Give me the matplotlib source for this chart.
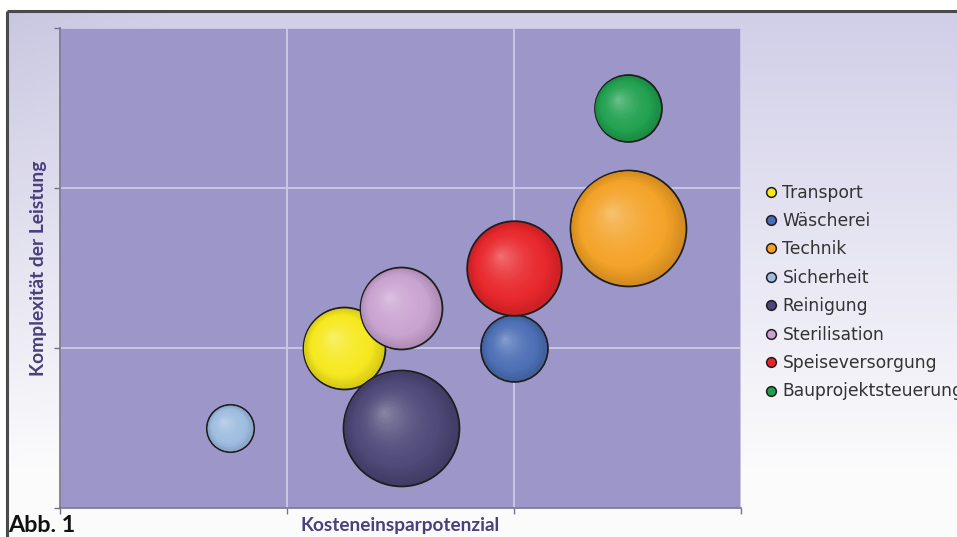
import matplotlib
matplotlib.use('Agg')
import matplotlib.pyplot as plt
import numpy as np
from matplotlib.colors import to_rgb
from matplotlib.lines import Line2D
from matplotlib.transforms import ScaledTranslation

# data
categories = ['Transport', 'Wäscherei', 'Technik', 'Sicherheit',
              'Reinigung', 'Sterilisation', 'Speiseversorgung', 'Bauprojektsteuerung']
kosten     = [1.25, 2.0, 2.5, 0.75, 1.5, 1.5, 2.0, 2.5]
komplex    = [1.0, 1.0, 1.75, 0.5, 0.5, 1.25, 1.5, 2.5]
groesse    = [3, 2, 6, 1, 6, 3, 4, 2]
colors     = ['#f6e81c', '#4a6db4', '#f4a226', '#9dbce0',
              '#4c4676', '#c9a2d0', '#e8252a', '#1fa04e']

W, H, DPI = 957, 537, 100
fig = plt.figure(figsize=(W / DPI, H / DPI), dpi=DPI)
fig.patch.set_facecolor('white')

# background gradient inside the frame
bg = fig.add_axes([0, 0, 1, 1], zorder=-5)
bg.set_xlim(0, 1)
bg.set_ylim(0, 1)
bg.axis('off')
ny, nx = 120, 200
yy, xx = np.mgrid[0:1:ny * 1j, 0:1:nx * 1j]
top = np.array([0.82, 0.81, 0.91])
bot = np.array([0.985, 0.985, 0.99])
t = np.clip(yy * 1.15, 0, 1)[..., None]
grad = top * (1 - t) + bot * t
grad = grad - 0.03 * np.clip(1 - xx * 6, 0, 1)[..., None] * (1 - t)
x0, y1 = 7 / W, 1 - 11 / H
bg.imshow(grad, extent=[x0, 1, 0, y1], aspect='auto', origin='upper')
bg.plot([x0, 1], [y1, y1], color='#4a4a4a', lw=2.2, solid_capstyle='butt')
bg.plot([x0, x0], [0, y1], color='#4a4a4a', lw=2.2, solid_capstyle='butt')

ax = fig.add_axes([60 / W, 1 - 508 / H, 681 / W, 480 / H])
ax.set_facecolor('#9d96c8')
ax.set_xlim(0, 3)
ax.set_ylim(0, 3)
ax.set_xticks([0, 1, 2, 3])
ax.set_yticks([0, 1, 2, 3])
ax.set_xticklabels([])
ax.set_yticklabels([])
ax.tick_params(direction='out', length=4, color='#77738f', width=1)
ax.grid(True, color='#cdc9e4', lw=1.3)
ax.set_axisbelow(True)
for side in ['top', 'right']:
    ax.spines[side].set_visible(False)
for side in ['left', 'bottom']:
    ax.spines[side].set_color('#77738f')
    ax.spines[side].set_linewidth(1.2)

scale = 1160  # points^2 per size unit


def bubble(x, y, size, color, z):
    base = np.array(to_rgb(color))
    s = size * scale
    r_pt = np.sqrt(s) / 2
    ax.scatter([x], [y], s=s, color=base * 0.86, edgecolors='#1e1e1e',
               linewidths=1.3, zorder=z)
    n = 30
    for k in range(1, n):
        f = k / n
        off = ScaledTranslation(-0.3 * r_pt * f / 72, 0.28 * r_pt * f / 72,
                                fig.dpi_scale_trans)
        light = 0.36 * f ** 2.2
        col = base * (0.86 + 0.14 * min(f * 4, 1))
        col = col + (1 - col) * light
        ax.scatter([x], [y], s=s * (1 - f) ** 2, color=col, linewidths=0,
                   transform=ax.transData + off, zorder=z + 0.01 * k)


for i in range(len(categories)):
    bubble(kosten[i], komplex[i], groesse[i], colors[i], 3 + i)

lab_font = ['Lato', 'DejaVu Sans']
fig.text(400 / W, 1 - 525 / H, 'Kosteneinsparpotenzial', ha='center', va='center',
         fontsize=13.7, fontweight='bold', color='#4b3f7c', family=lab_font)
fig.text(39 / W, 1 - 268 / H, 'Komplexität der Leistung', ha='center', va='center',
         rotation=90, fontsize=13.9, fontweight='bold', color='#4b3f7c', family=lab_font)
fig.text(8 / W, 1 - 525 / H, 'Abb. 1', ha='left', va='center',
         fontsize=16.8, fontweight='bold', color='#111111', family=lab_font)

handles = [Line2D([], [], ls='none', marker='o', markersize=7,
                  markerfacecolor=c, markeredgecolor='#1e1e1e', markeredgewidth=1.1)
           for c in colors]
fig.legend(handles, categories, loc='upper left', bbox_to_anchor=(756 / W, 1 - 175 / H),
           frameon=False, fontsize=12.3, handlelength=0.75, handletextpad=0.3,
           labelspacing=0.61, borderpad=0, labelcolor='#333333')

fig.savefig('out.png', dpi=DPI)
